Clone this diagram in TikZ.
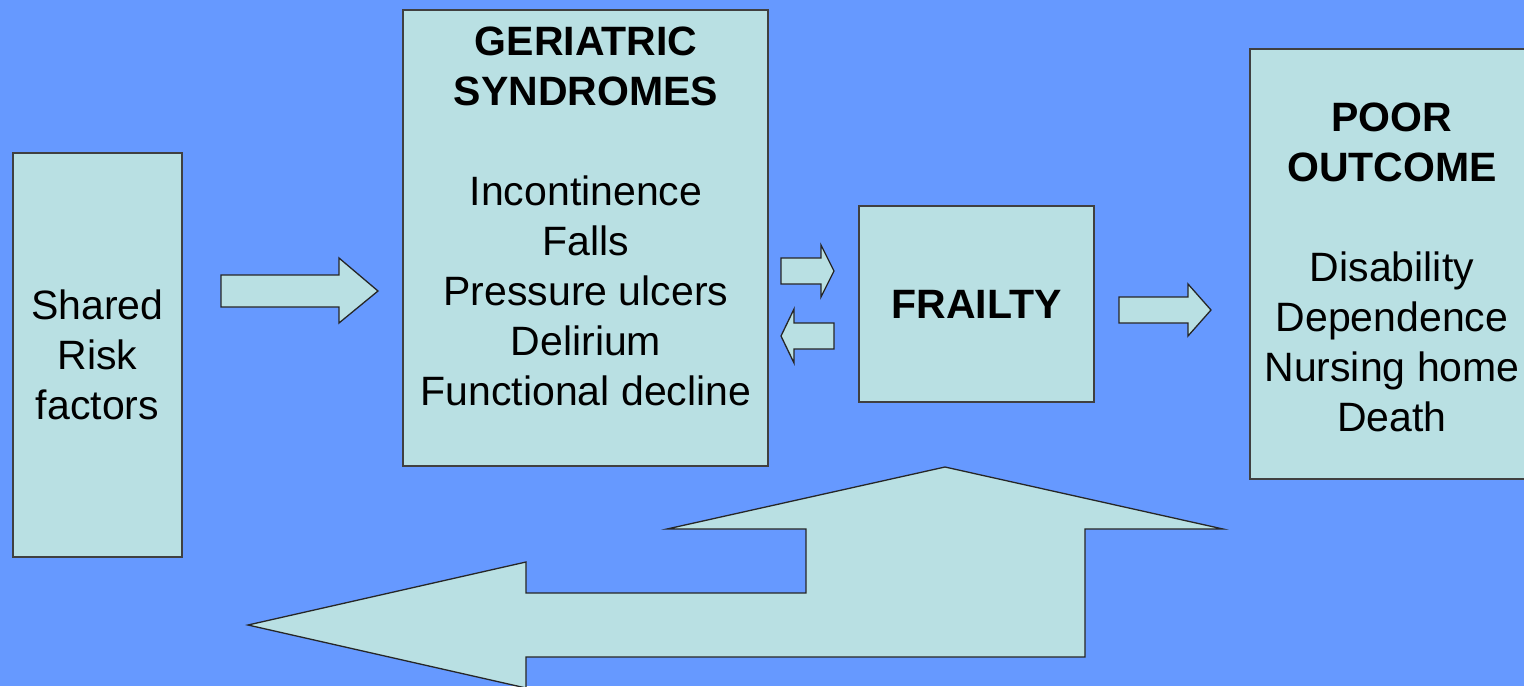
\documentclass[tikz,border=0pt]{standalone}
\usepackage{fontspec}
\setmainfont{Liberation Sans}
\definecolor{slidebg}{RGB}{102,153,255}
\definecolor{boxfill}{RGB}{185,224,227}
\tikzset{
    panel/.style={draw=black!75, line width=1.3pt, fill=boxfill, inner sep=0pt},
    label/.style={align=center, font=\fontsize{41}{50}\selectfont, inner sep=0pt},
    blockarrow/.style={draw=black!85, line width=1.3pt, fill=boxfill, line join=miter},
}

\begin{document}
\begin{tikzpicture}[x=1pt, y=-1pt]
    % slide background
    \useasboundingbox (0,0) rectangle (1524,686);
    \clip (0,0) rectangle (1524,686);
    \fill [slidebg] (0,0) rectangle (1524,686);
    % shared risk factors
    \node [panel, minimum width=169pt, minimum height=404pt] (risk) at (97.5,355) {};
    \node [label] (risktext) at (risk.center) {Shared\\Risk\\factors};
    % geriatric syndromes
    \node [panel, minimum width=365pt, minimum height=456pt] (syndromes) at (585.5,238) {};
    \node [label] (syndromestext) at (586,216) {\textbf{GERIATRIC}\\\textbf{SYNDROMES}\\[50pt]Incontinence\\Falls\\Pressure ulcers\\Delirium\\Functional decline};
    % frailty
    \node [panel, minimum width=235pt, minimum height=196pt] (frailty) at (976.5,304) {};
    \node [label, font=\fontsize{41}{50}\selectfont\bfseries] (frailtytext) at (frailty.center) {FRAILTY};
    % poor outcome
    \node [panel, minimum width=284pt, minimum height=430pt] (outcome) at (1392,264) {};
    \node [label] (outcometext) at (1392,267) {\textbf{POOR}\\\textbf{OUTCOME}\\[50pt]Disability\\Dependence\\Nursing home\\Death};
    % risk factors -> syndromes
    \draw [blockarrow] (221,275) -- (339,275) -- (339,258) -- (378,291) -- (339,323) -- (339,307) -- (221,307) -- cycle;
    % syndromes -> frailty
    \draw [blockarrow] (781,258) -- (821,258) -- (821,245) -- (834,271) -- (821,297) -- (821,284) -- (781,284) -- cycle;
    % frailty -> syndromes
    \draw [blockarrow] (834,323) -- (794,323) -- (794,309) -- (781,336) -- (794,363) -- (794,349) -- (834,349) -- cycle;
    % frailty -> poor outcome
    \draw [blockarrow] (1119,297) -- (1188,297) -- (1188,284) -- (1211,310) -- (1188,336) -- (1188,323) -- (1119,323) -- cycle;
    % feedback arrow below
    \draw [blockarrow] (945,467) -- (1223,529) -- (1085,529) -- (1085,657) -- (526,657) -- (526,688)
        -- (248,625) -- (526,562) -- (526,593) -- (806,593) -- (806,529) -- (667,529) -- cycle;
\end{tikzpicture}
\end{document}
